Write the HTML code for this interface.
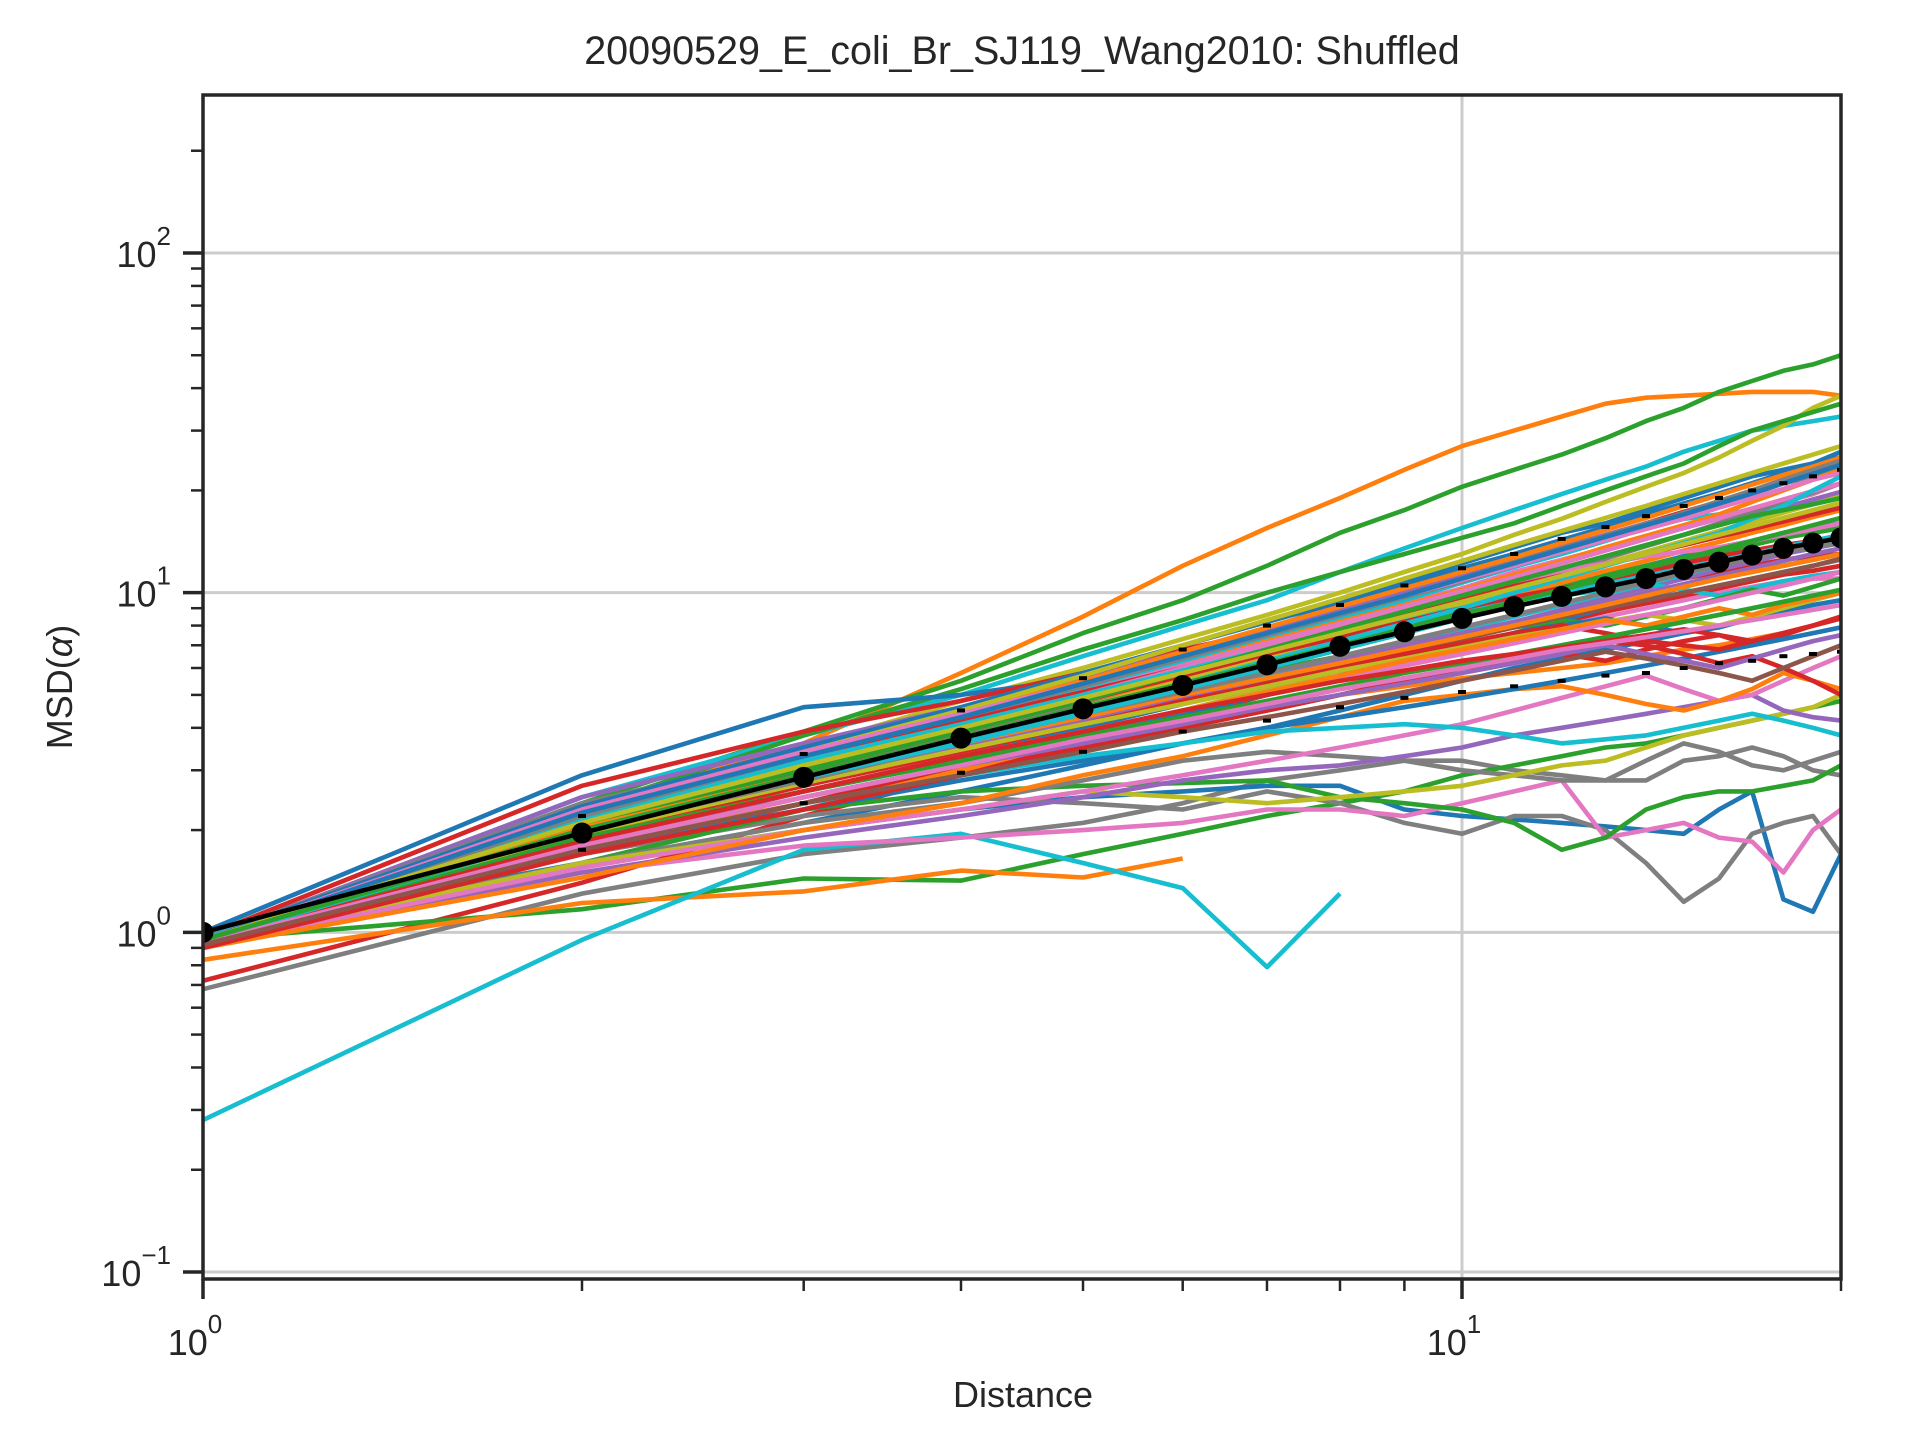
<!DOCTYPE html>
<html><head><meta charset="utf-8"><style>
html,body{margin:0;padding:0;background:#fff;}
svg{display:block;font-family:"Liberation Sans",Arial,sans-serif;}
</style></head><body>
<svg id="chart" width="1920" height="1440" viewBox="0 0 1920 1440" xmlns="http://www.w3.org/2000/svg">
<rect x="0" y="0" width="1920" height="1440" fill="#fff"/>
<defs><clipPath id="clip"><rect x="203" y="95" width="1638" height="1184"/></clipPath></defs>
<g id="grid"></g>
<g id="series" clip-path="url(#clip)"></g>
<g id="mean" clip-path="url(#clip)"></g>
<rect x="203" y="95" width="1638" height="1184" fill="none" stroke="#262626" stroke-width="3.5"/>
<g id="ticks"></g>
<text x="1022" y="64" font-size="39.5" text-anchor="middle" fill="#262626">20090529_E_coli_Br_SJ119_Wang2010: Shuffled</text>
<text x="1023" y="1407" font-size="36" text-anchor="middle" fill="#262626">Distance</text>
<text transform="translate(72,687) rotate(-90)" font-size="36" text-anchor="middle" fill="#262626">MSD(<tspan font-style="italic">α</tspan>)</text>
</svg>
<script>
const distances=[1,2,3,4,5,6,7,8,9,10,11,12,13,14,15,16,17,18,19,20];
const meanValues=[1.0,1.96,2.86,3.73,4.55,5.33,6.13,6.95,7.67,8.4,9.1,9.75,10.4,11.0,11.7,12.3,12.9,13.5,14.0,14.5];
const upperValues=[1.0,2.2,3.35,4.5,5.6,6.8,8.0,9.2,10.5,11.8,13.0,14.4,15.6,16.8,18.0,19.0,20.0,21.0,22.0,23.0];
const lowerValues=[1.0,1.75,2.4,2.95,3.4,3.9,4.2,4.6,4.9,5.1,5.3,5.5,5.7,5.8,6.0,6.2,6.3,6.5,6.6,6.7];
const lineColors=["#ff7f0e","#2ca02c","#17becf","#bcbd22","#2ca02c","#1f77b4","#d62728","#9467bd","#7f7f7f","#e377c2","#8c564b","#17becf","#ff7f0e","#2ca02c","#1f77b4","#d62728","#9467bd","#bcbd22","#e377c2","#7f7f7f","#17becf","#ff7f0e","#1f77b4","#d62728","#7f7f7f","#2ca02c","#ff7f0e","#17becf","#1f77b4","#7f7f7f","#e377c2","#2ca02c","#7f7f7f","#bcbd22","#9467bd","#e377c2","#ff7f0e","#d62728","#1f77b4","#2ca02c","#7f7f7f","#e377c2","#17becf","#ff7f0e","#9467bd","#8c564b","#d62728","#bcbd22","#1f77b4","#17becf","#1f77b4","#ff7f0e","#e377c2","#bcbd22","#17becf","#d62728","#2ca02c","#7f7f7f","#8c564b","#9467bd","#e377c2","#1f77b4","#ff7f0e","#d62728","#bcbd22","#17becf","#2ca02c","#7f7f7f","#e377c2","#d62728","#ff7f0e","#9467bd","#1f77b4","#2ca02c","#bcbd22","#d62728","#17becf","#e377c2","#8c564b","#2ca02c"];
const L1=[0.95,2.3,3.6,5.8,8.5,12,15.5,19,23,27,30,33,36,37.5,38,38.5,39,39,39,38];
const L2=[0.95,2.4,3.9,5.5,7.6,9.5,12,15,17.5,20.5,23,25.5,28.5,32,35,39,42,45,47,50];
const L3=[0.95,2.5,3.8,5,6.5,8,9.5,11.5,13.5,15.5,17.5,19.5,21.5,23.5,26,28,30,31,32,33];
const L4=[0.93,2.2,3.5,4.8,6,7.3,8.6,10,11.5,13,14.8,16.5,18.5,20.5,22.5,25,28,31,35,38];
const L5=[0.95,2.3,3.8,5.2,6.8,8.3,10,11.5,13,14.5,16,18,20,22,24,27,30,32,34,36];
const L6=[1.0,2.9,4.6,5,5.6,6.5,7.8,9.3,10.8,12.2,13.6,15,16,17.5,19,20.5,22,23,24,25];
const L7=[0.97,2.7,3.9,4.8,5.8,6.8,7.7,8.7,9.8,11,12.2,13.5,14.7,16,17.3,18.5,19.5,21,22,23];
const L8=[0.95,2.5,3.6,4.6,5.6,6.7,7.8,8.9,10,11.2,12.4,13.6,14.8,16,17,18.5,20,21.5,23,24];
const L9=[0.96,2.4,3.4,4.4,5.5,6.6,7.6,8.7,9.8,11,12.3,13.5,14.7,16,17,18,19.5,21,22,23];
const L10=[0.9,2.3,3.3,4.3,5.2,6.3,7.3,8.3,9.3,10.3,11.5,12.5,13.5,14.5,15.5,16.5,17.5,18.5,19.5,21];
const L11=[0.95,2.1,3.0,3.8,4.6,5.4,6.2,7,7.8,8.6,9.5,10.3,11,11.8,12.5,13.3,14,14.8,15.5,16];
const L12=[0.92,2.2,3.1,4.2,5.2,6.2,7.3,8.4,9.5,10.7,11.9,13,14.2,15.5,16.5,17,17.5,18,18.5,19];
const L13=[0.93,2.2,3.2,4.2,5.1,6.1,7.2,8.2,9.2,10.2,11.3,12.4,13.6,14.7,15.8,17,18.5,20,21.5,23];
const L14=[0.93,2.0,2.8,3.6,4.4,5.2,6,6.8,7.6,8.4,9.3,10,10.8,11.6,12.3,13,13.8,14.5,15,15.5];
const L15=[0.94,2.0,2.9,3.8,4.6,5.4,6.3,7.2,8,8.8,9.6,10.4,11.2,12,12.8,13.5,14.2,15,15.5,16];
const L16=[0.9,1.9,2.7,3.5,4.2,5,5.7,6.4,7.1,7.8,8.5,9.2,9.8,10.4,11,11.5,12,12.5,12.8,13];
const L17=[0.92,1.8,2.6,3.3,4,4.7,5.4,6.1,6.8,7.5,8.2,8.9,9.6,10.3,11,11.7,12.3,13,13.5,14];
const L18=[0.94,1.8,2.5,3.1,3.8,4.5,5.2,5.9,6.6,7.3,8,8.7,9.4,10,10.5,11,11.5,12,12.5,13];
const L19=[0.9,1.6,2.3,3,3.7,4.3,5,5.6,6.2,6.8,7.4,8,8.5,9,9.5,10,10.4,10.8,11,11];
const L20=[0.93,1.7,2.4,3.1,3.8,4.5,5.1,5.7,6.4,7,7.6,8.2,8.8,9.4,10,10.5,11,11.5,12,12.5];
const L21=[0.92,1.7,2.3,3,3.5,4,4.5,5,5.5,6,6.5,7,7.4,7.8,8.2,8.6,9,9.4,9.8,10];
const L22=[0.95,1.8,2.4,3.0,3.5,4.0,4.5,5,5.3,5.6,5.8,6,6.2,6.5,6.8,7,7.3,7.6,8,8.5];
const L23=[0.97,1.6,2.1,2.6,3.1,3.6,4.0,4.5,5,5.5,6,6.4,6.8,7.2,7.6,8,8.4,8.8,9.2,9.5];
const L24=[0.72,1.4,2.2,2.9,3.6,4.3,5,5.7,6.3,7,7.6,8.2,8.8,9.3,9.8,10.3,10.8,11.3,11.6,12];
const L25=[0.68,1.3,1.7,1.9,2.1,2.4,2.8,3.0,3.2,3.2,3.0,2.9,2.8,2.8,3.2,3.3,3.5,3.3,3.0,2.9];
const L26=[0.95,1.17,1.44,1.42,1.7,1.95,2.2,2.4,2.6,2.9,3.1,3.3,3.5,3.6,3.8,4,4.2,4.4,4.6,4.8];
const L27=[0.83,1.22,1.32,1.52,1.45,1.65];
const L28=[0.28,0.95,1.75,1.95,1.6,1.35,0.79,1.3];
const L29=[1,1.6,2,2.3,2.5,2.6,2.7,2.7,2.3,2.2,2.15,2.1,2.05,2.0,1.95,2.3,2.6,1.25,1.15,1.7];
const L30=[0.9,1.7,2.2,2.5,2.4,2.3,2.6,2.4,2.1,1.95,2.2,2.2,2.0,1.6,1.23,1.44,1.95,2.1,2.2,1.7];
const L31=[0.9,1.5,1.8,1.9,2.0,2.1,2.3,2.3,2.2,2.4,2.6,2.8,1.9,2.0,2.1,1.9,1.85,1.5,2.0,2.3];
const L32=[0.93,1.6,2.3,2.6,2.7,2.75,2.8,2.5,2.4,2.3,2.1,1.75,1.9,2.3,2.5,2.6,2.6,2.7,2.8,3.1];
const L33=[0.95,1.6,2.1,2.4,2.8,3.2,3.4,3.3,3.2,3.0,2.9,2.8,2.8,3.2,3.6,3.4,3.1,3.0,3.2,3.4];
const L34=[0.92,1.6,2.0,2.3,2.6,2.5,2.4,2.5,2.6,2.7,2.9,3.1,3.2,3.5,3.8,4.0,4.2,4.4,4.6,5.0];
const L35=[0.92,1.5,1.9,2.2,2.5,2.8,3.0,3.1,3.3,3.5,3.8,4.0,4.2,4.4,4.6,4.8,5.0,4.5,4.3,4.2];
const L36=[0.9,1.55,2.0,2.3,2.6,2.9,3.2,3.5,3.8,4.1,4.5,4.9,5.3,5.7,5.2,4.8,5.0,5.5,6,6.5];
const L37=[0.9,1.45,2.0,2.4,2.9,3.3,3.8,4.3,4.8,5.0,5.2,5.3,5.0,4.7,4.5,4.8,5.2,5.8,5.5,5.2];
const L38=[0.9,1.7,2.4,3.1,3.7,4.2,4.7,5.2,5.6,6,6.3,6.6,6.3,6.8,7.2,7.5,7.0,7.5,8,8.5];
const L39=[0.93,1.9,2.6,3.2,3.8,4.4,5,5.7,6.3,7,7.6,8.3,9,9.7,10.4,11,11.6,12,12.5,13];
const L40=[0.95,2.1,3.0,3.8,4.8,5.6,6.4,7.2,8,8.8,9.6,10.5,11.3,12,12.7,13.4,14,14.6,15.2,16];
const L41=[0.95,2.05,2.9,3.8,4.7,5.6,6.5,7.5,8.5,9.5,10.5,11.5,12.6,13.7,14.8,16,17.2,18.5,19.7,21];
const L42=[0.92,2.1,3.2,4.1,5.1,6.1,7.1,8.1,9.1,10.1,11.1,12.2,13.3,14.4,15.5,16.6,17.7,18.8,19.9,21];
const L43=[0.94,1.95,2.8,3.6,4.3,5,5.7,6.4,7.1,7.8,8.5,9.2,9.9,10.6,11.3,12,12.7,13.4,14.1,14.8];
const L44=[0.97,2.15,3.1,3.9,4.8,5.6,6.5,7.3,8.2,9,9.9,10.7,11.6,12.4,13.3,14.1,15,15.8,16.7,17.5];
const L45=[0.96,2.2,3.2,4.2,5.1,6,7,7.9,8.8,9.8,10.8,11.8,12.8,13.8,14.8,15.8,16.8,17.8,18.8,19.8];
const L46=[0.95,1.95,2.85,3.7,4.5,5.3,6.1,6.9,7.7,8.4,9.1,9.8,10.5,11.2,11.8,12.4,13,13.5,14,14.5];
const L47=[0.95,2.3,3.3,4.2,5.1,6,6.9,7.8,8.7,9.6,10.5,11.4,12.2,13,13.8,14.6,15.4,16.2,17,17.8];
const L48=[0.95,2.0,2.9,3.7,4.6,5.5,6.4,7.3,8.2,9.2,10.2,11.2,12.2,13.2,14.2,15.2,16.2,17.2,18.2,19.2];
const L49=[0.95,1.75,2.3,2.8,3.2,3.6,4,4.3,4.6,4.9,5.2,5.5,5.8,6.1,6.4,6.7,7,7.3,7.6,7.9];
const L50=[0.93,1.75,2.4,2.9,3.3,3.6,3.9,4.0,4.1,4.0,3.8,3.6,3.7,3.8,4.0,4.2,4.4,4.2,4.0,3.8];
const L51=[0.96,2.35,3.5,4.6,5.8,7,8.2,9.4,10.6,11.8,13,14.3,15.6,17,18.3,19.6,21,22.5,24,26];
const L52=[0.95,2.25,3.3,4.4,5.5,6.7,7.9,9.1,10.3,11.5,12.7,14,15.3,16.6,18,19.4,20.8,22.2,23.5,25];
const L53=[0.94,2.1,3.1,4.0,5.0,6.0,7.0,8.0,9.0,9.9,10.8,11.6,12.2,12.8,13.2,13.6,14.2,14.8,15.4,16];
const L54=[0.95,2.2,3.4,4.5,5.7,7.0,8.3,9.6,11,12.4,13.8,15.2,16.6,18,19.5,21,22.5,24,25.5,27];
const L55=[0.96,2.15,3.2,4.1,5.0,5.9,6.8,7.6,8.4,9.0,9.5,9.8,10.2,10.6,10.2,9.8,10.3,10.8,11.2,11.5];
const L56=[0.94,2.05,3.0,3.9,4.8,5.7,6.6,7.4,8.2,9.0,9.7,10.3,10.8,11.5,12.2,12.8,13.3,13.8,14.2,14.6];
const L57=[0.93,2.0,2.9,3.7,4.5,5.2,5.9,6.5,7.0,7.5,7.9,8.3,8.0,8.5,9.0,9.6,10.2,9.8,10.4,11];
const L58=[0.95,2.2,3.3,4.3,5.3,6.4,7.5,8.6,9.7,10.8,12,13.2,14.5,15.8,17.2,18.6,20,21.5,23,24.5];
const L59=[0.95,2.0,2.8,3.5,4.2,4.9,5.5,6.1,6.7,7.3,7.9,8.5,9.0,9.5,10,10.5,11,11.5,12,12.6];
const L60=[0.94,1.95,2.75,3.5,4.2,4.9,5.6,6.3,7.0,7.6,8.2,8.8,9.4,10,10.6,11.2,11.8,12.4,13,13.5];
const L61=[0.95,2.3,3.4,4.4,5.4,6.5,7.6,8.7,9.8,10.9,12,13.2,14.3,15.4,16.5,17.8,19,20.2,21.5,22.5];
const L62=[0.9,1.85,2.6,3.3,4.0,4.7,5.3,5.9,6.5,7.0,7.5,8.0,8.4,8.0,7.6,7.9,8.4,9.0,9.5,10];
const L63=[0.95,2.05,2.9,3.6,4.3,5.0,5.6,6.2,6.8,7.4,8.0,8.6,9.2,9.8,10.4,11,11.5,12,12.5,13];
const L64=[0.92,1.9,2.7,3.4,4.1,4.8,5.4,6.0,6.6,7.1,7.6,8.0,7.6,7.2,7.0,6.8,7.2,7.6,8,8.4];
const L65=[0.93,1.95,2.75,3.45,4.1,4.7,5.3,5.9,6.4,6.9,7.4,7.8,8.2,8.6,8.3,8.0,8.5,9.0,9.5,10];
const L66=[0.94,2.0,2.9,3.7,4.5,5.4,6.3,7.2,8.1,9.0,10,11,12,13,14,15,16.5,18,20,22];
const L67=[0.95,2.1,3.0,3.9,4.8,5.8,6.8,7.8,8.8,9.8,10.8,11.8,12.8,13.8,14.8,15.8,16.8,17.5,18.2,19];
const L68=[0.95,2.0,2.8,3.6,4.4,5.1,5.8,6.5,7.2,7.9,8.6,9.3,10,10.7,11.4,12,12.6,13.2,13.6,14];
const L69=[0.93,1.85,2.6,3.3,3.9,4.5,5.1,5.6,6.1,6.6,7.1,7.6,8.1,8.6,9.0,9.5,10,10.5,11,11.5];
const L70=[0.9,1.7,2.3,2.9,3.5,4.0,4.5,5.0,5.5,6.0,6.4,6.8,7.2,7.0,6.6,6.2,6.5,6.0,5.5,5.0];
const L71=[0.93,1.9,2.6,3.3,3.9,4.5,5.1,5.7,6.3,6.8,7.3,7.8,8.3,8.0,8.5,9.0,8.6,9.2,9.6,10];
const L72=[0.92,1.8,2.5,3.1,3.6,4.1,4.6,5.0,5.4,5.8,6.2,6.6,7.0,6.6,6.3,6.0,6.4,6.8,7.2,7.5];
const L73=[0.95,2.25,3.3,4.3,5.4,6.5,7.6,8.7,9.8,11,12.2,13.4,14.6,15.8,17,18.3,19.6,21,22.4,23.8];
const L74=[0.94,1.9,2.6,3.2,3.8,4.3,4.8,5.3,5.8,6.2,6.6,7.0,7.4,7.8,8.2,8.6,9.0,9.4,9.8,10.2];
const L75=[0.95,2.1,3.1,4.0,4.9,5.8,6.7,7.6,8.5,9.4,10.3,11.2,12.1,13,13.9,14.8,15.7,16.6,17.5,18.4];
const L76=[0.93,1.85,2.6,3.3,3.9,4.5,5.0,5.5,5.9,6.3,6.6,6.9,7.2,7.5,7.8,7.5,7.2,7.6,8.0,8.4];
const L77=[0.94,2.0,2.85,3.6,4.4,5.2,6.0,6.8,7.6,8.4,9.2,10,10.6,11.2,11.8,12.4,13,13.6,14.2,14.8];
const L78=[0.93,1.8,2.5,3.1,3.7,4.2,4.7,5.2,5.6,6.0,6.4,6.8,7.1,7.4,7.7,8.0,8.3,8.6,8.9,9.2];
const L79=[0.92,1.75,2.4,2.9,3.4,3.9,4.3,4.7,5.1,5.5,5.9,6.3,6.7,6.4,6.1,5.8,5.5,6.0,6.5,7.0];
const L80=[0.95,2.0,2.9,3.75,4.6,5.4,6.2,7.0,7.8,8.6,9.4,10.2,11,11.8,12.6,13.4,14.2,15,15.8,16.6];
const seriesList=[L1,L2,L3,L4,L5,L6,L7,L8,L9,L10,L11,L12,L13,L14,L15,L16,L17,L18,L19,L20,L21,L22,L23,L24,L25,L26,L27,L28,L29,L30,L31,L32,L33,L34,L35,L36,L37,L38,L39,L40,L41,L42,L43,L44,L45,L46,L47,L48,L49,L50,L51,L52,L53,L54,L55,L56,L57,L58,L59,L60,L61,L62,L63,L64,L65,L66,L67,L68,L69,L70,L71,L72,L73,L74,L75,L76,L77,L78,L79,L80];
const xMajorTicks=[1,10];
const xMajorLabels=["0","1"];
const yMajorTicks=[0.1,1,10,100];
const yMajorLabels=["−1","0","1","2"];

const NS="http://www.w3.org/2000/svg";
const X0=203,X1=1841,Y0=1279,Y1=95;
const xMin=0,xMax=Math.log10(20);
const yMin=-1.0206,yMax=2.4651;
function xs(v){return X0+(Math.log10(v)-xMin)/(xMax-xMin)*(X1-X0);}
function ys(v){return Y0-(Math.log10(v)-yMin)/(yMax-yMin)*(Y0-Y1);}
function mk(tag,attrs,parent){const e=document.createElementNS(NS,tag);for(const k in attrs)e.setAttribute(k,attrs[k]);parent.appendChild(e);return e;}

const grid=document.getElementById('grid');
xMajorTicks.forEach(t=>{const l=mk('line',{x1:xs(t),x2:xs(t),y1:Y1,y2:Y0,stroke:'#cccccc','stroke-width':3},grid);

});
yMajorTicks.forEach(t=>{const l=mk('line',{x1:X0,x2:X1,y1:ys(t),y2:ys(t),stroke:'#cccccc','stroke-width':3},grid);

});

const sg=document.getElementById('series');
seriesList.forEach((s,i)=>{
  const pts=s.map((v,j)=>xs(distances[j]).toFixed(1)+','+ys(v).toFixed(1)).join(' ');
  const p=mk('polyline',{points:pts,fill:'none',stroke:lineColors[i],'stroke-width':4.6,'stroke-linejoin':'round'},sg);
  
  
});

const mg=document.getElementById('mean');
distances.forEach((d,j)=>{
  const x=xs(d);
  [upperValues[j],lowerValues[j]].forEach(u=>{const c=mk('line',{x1:x-4,x2:x+4,y1:ys(u),y2:ys(u),stroke:'#000','stroke-width':4},mg);
  
  });
});
const mp=mk('polyline',{points:meanValues.map((v,j)=>xs(distances[j])+','+ys(v)).join(' '),fill:'none',stroke:'#000','stroke-width':4.5},mg);


meanValues.forEach((v,j)=>{const c=mk('circle',{cx:xs(distances[j]),cy:ys(v),r:10.5,fill:'#000'},mg);

});

const tg=document.getElementById('ticks');
for(let d=0;d<2;d++){for(let k=1;k<10;k++){const v=k*Math.pow(10,d);if(v>20)break;const major=(k===1);
  const t=mk('line',{x1:xs(v),x2:xs(v),y1:Y0,y2:Y0+(major?20:12),stroke:'#262626','stroke-width':major?3.5:2.5},tg);
  
  }}
for(let d=-2;d<3;d++){for(let k=1;k<10;k++){const v=k*Math.pow(10,d);const lv=Math.log10(v);if(lv<yMin||lv>yMax)continue;const major=(k===1);
  const t=mk('line',{x1:X0-(major?20:12),x2:X0,y1:ys(v),y2:ys(v),stroke:'#262626','stroke-width':major?3.5:2.5},tg);
  
  }}
xMajorTicks.forEach((t,i)=>{const tx=mk('text',{x:xs(t)-8,y:1355,'font-size':36,'text-anchor':'middle',fill:'#262626'},tg);
  
  
  tx.textContent='10';
  const sup=mk('tspan',{dy:-22,'font-size':26},tx);sup.textContent=xMajorLabels[i];});
yMajorTicks.forEach((t,i)=>{const tx=mk('text',{x:171,y:ys(t)+14,'font-size':36,'text-anchor':'end',fill:'#262626'},tg);
  
  
  tx.textContent='10';
  const sup=mk('tspan',{dy:-22,'font-size':26},tx);sup.textContent=yMajorLabels[i];});
</script>
</body></html>
